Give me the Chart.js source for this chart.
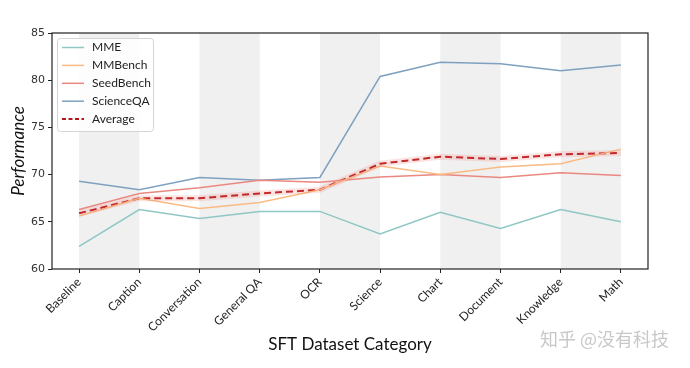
<!DOCTYPE html>
<html>
<head>
<meta charset="utf-8">
<script src="https://cdn.jsdelivr.net/npm/chart.js@4"></script>
<style>
html,body{margin:0;padding:0;background:#fff;}
#wrap{position:relative;width:690px;height:368px;}
#wm{position:absolute;left:540px;top:325px;font-family:"Noto Sans CJK SC",sans-serif;font-size:18px;color:#c8c8c8;white-space:nowrap;}
</style>
</head>
<body>
<div id="wrap">
<canvas id="c" width="690" height="368"></canvas>
<div id="wm">知乎 @没有科技</div>
</div>
<script>
const categories = ["Baseline","Caption","Conversation","General QA","OCR","Science","Chart","Document","Knowledge","Math"];
const mme       = [62.4, 66.3, 65.35, 66.1, 66.1, 63.7, 66.0, 64.3, 66.3, 65.0];
const mmbench   = [65.6, 67.5, 66.4, 67.05, 68.4, 70.9, 70.0, 70.8, 71.15, 72.7];
const seedbench = [66.3, 68.0, 68.6, 69.4, 69.2, 69.75, 70.0, 69.7, 70.2, 69.9];
const scienceqa = [69.3, 68.4, 69.7, 69.4, 69.7, 80.4, 81.9, 81.75, 81.0, 81.6];
const average   = [65.9, 67.5, 67.5, 68.0, 68.4, 71.15, 71.9, 71.65, 72.15, 72.3];
const yTicks = [60, 65, 70, 75, 80, 85];

const HAND = "'Comic Sans MS','Lato',sans-serif";
const pts = arr => arr.map((v,i)=>({x:i,y:v}));

const series = [
  {label:"MME", data:mme, color:"#8ec7c3", width:1.5, dash:[]},
  {label:"MMBench", data:mmbench, color:"#f9bb82", width:1.5, dash:[]},
  {label:"SeedBench", data:seedbench, color:"#ea8880", width:1.5, dash:[]},
  {label:"ScienceQA", data:scienceqa, color:"#7fa1c0", width:1.5, dash:[]},
  {label:"Average", data:average, color:"#b8141b", width:2, dash:[7,4]}
];

const datasets = [
  {label:"_halo", data:pts(average), borderColor:"rgba(240,120,110,0.2)", borderWidth:6, pointRadius:0, tension:0, fill:false},
  ...series.map(s=>({label:s.label, data:pts(s.data), borderColor:s.color, borderWidth:s.width, borderDash:s.dash, pointRadius:0, tension:0, fill:false}))
];

const bandsPlugin = {
  id:"bands",
  beforeDatasetsDraw(chart){
    const {ctx, chartArea:a, scales:{x}} = chart;
    ctx.save();
    ctx.fillStyle = "#f0f0f0";
    for(let i=0;i<categories.length-1;i+=2){
      const x0 = x.getPixelForValue(i), x1 = x.getPixelForValue(i+1);
      ctx.fillRect(x0, a.top, x1-x0, a.bottom-a.top);
    }
    ctx.restore();
  },
  afterDatasetsDraw(chart){
    const {ctx, chartArea:a} = chart;
    ctx.save();
    ctx.strokeStyle = "#222";
    ctx.lineWidth = 1.2;
    ctx.strokeRect(a.left, a.top, a.right-a.left, a.bottom-a.top);
    const bx=57.5, by=38.5, bw=96, bh=93;
    ctx.fillStyle="rgba(255,255,255,0.85)";
    ctx.strokeStyle="#d4d4d4";
    ctx.lineWidth=1;
    ctx.beginPath();
    if(ctx.roundRect) ctx.roundRect(bx,by,bw,bh,3); else ctx.rect(bx,by,bw,bh);
    ctx.fill(); ctx.stroke();
    ctx.font = "12px " + HAND;
    ctx.textBaseline="middle";
    series.forEach((s,k)=>{
      const y = 47.5 + k*17.9;
      ctx.strokeStyle = s.color;
      ctx.lineWidth = s.width;
      ctx.setLineDash(s.dash.length? [4,2.5] : []);
      ctx.beginPath(); ctx.moveTo(62,y); ctx.lineTo(84,y); ctx.stroke();
      ctx.setLineDash([]);
      ctx.fillStyle="#222";
      ctx.fillText(s.label, 92, y);
    });
    ctx.restore();
  }
};

new Chart(document.getElementById("c"), {
  type:"line",
  data:{datasets},
  options:{
    responsive:false,
    animation:false,
    layout:{padding:{left:0,right:42,top:33,bottom:0}},
    plugins:{legend:{display:false}, tooltip:{enabled:false}},
    scales:{
      x:{
        type:"linear",
        min:-0.45, max:categories.length-1+0.45,
        afterBuildTicks(scale){ scale.ticks = categories.map((c,i)=>({value:i})); },
        afterFit(scale){ scale.height = 99; },
        ticks:{
          callback:(v)=>categories[v],
          autoSkip:false, maxRotation:45, minRotation:45,
          font:{family:HAND, size:12}, color:"#222", padding:2
        },
        grid:{drawOnChartArea:false, drawTicks:true, tickLength:4, color:"#222"},
        border:{display:false},
        title:{display:true, text:"SFT Dataset Category", font:{family:HAND, size:17}, color:"#111", padding:{top:0,bottom:13}}
      },
      y:{
        min:60, max:85,
        afterBuildTicks(scale){ scale.ticks = yTicks.map(v=>({value:v})); },
        afterFit(scale){ scale.width = 52; },
        ticks:{font:{family:"DejaVu Sans", size:11}, color:"#333", padding:3},
        grid:{drawOnChartArea:false, drawTicks:true, tickLength:4, color:"#222"},
        border:{display:false},
        title:{display:true, text:"Performance", font:{family:HAND, size:17, style:"italic"}, color:"#111", padding:{top:8,bottom:0}}
      }
    }
  },
  plugins:[bandsPlugin]
});
</script>
</body>
</html>
